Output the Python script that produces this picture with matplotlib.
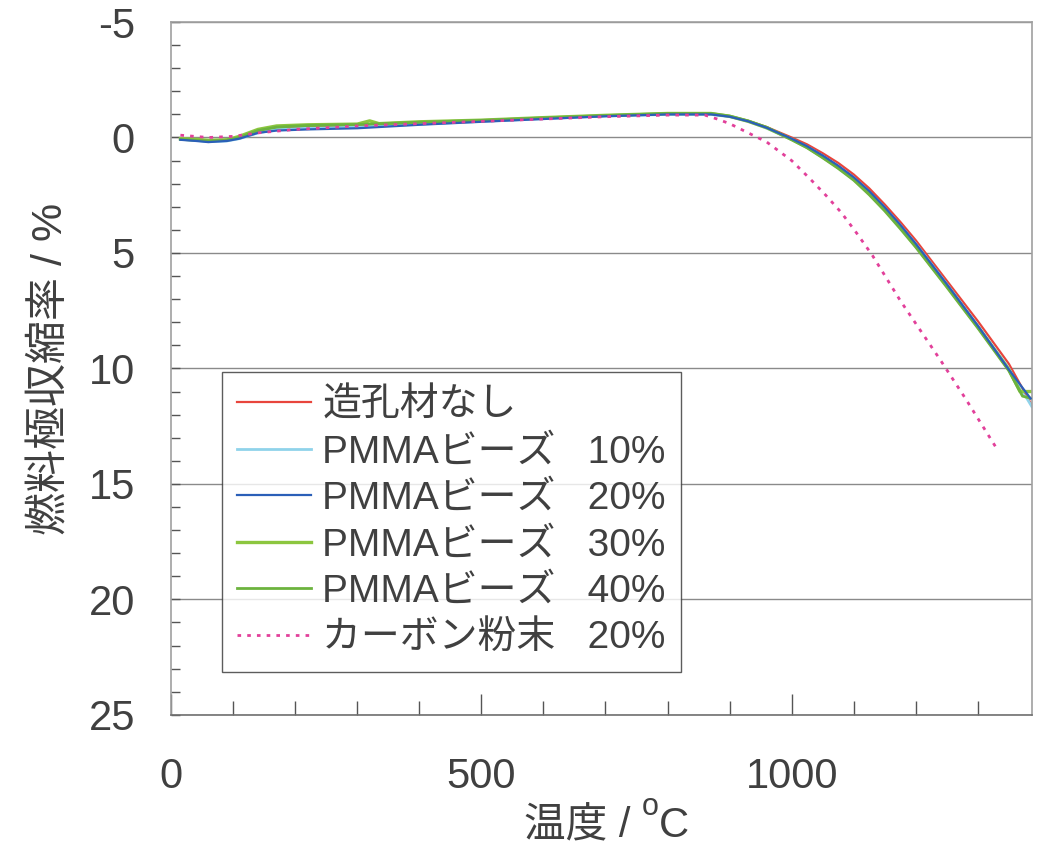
#!/usr/bin/python3
# -*- coding: utf-8 -*-
#
# 燃料極の収縮率 (造孔材の種類・量による違い)
#
import matplotlib
matplotlib.use('Agg')
import matplotlib.pyplot as plt
from matplotlib.ticker import MultipleLocator

plt.rcParams['font.family'] = ['Liberation Sans', 'Noto Sans CJK JP', 'DejaVu Sans']
plt.rcParams['axes.unicode_minus'] = False

#
# temperatura (°C) y contracción (%)
#
t_nashi = [15, 40, 60, 90, 110, 140, 170, 220, 300, 400, 500, 600, 700, 800, 870, 900,
           930, 960, 1000, 1025, 1050, 1075, 1100, 1125, 1150, 1175, 1200, 1250, 1300, 1350, 1385]
y_nashi = [0.05, 0.1, 0.15, 0.1, 0.0, -0.3, -0.42, -0.48, -0.52, -0.62, -0.72, -0.84, -0.94,
           -1.02, -1.02, -0.92, -0.72, -0.45, 0.0, 0.3, 0.68, 1.1, 1.6, 2.2, 2.9, 3.65, 4.45,
           6.2, 7.95, 9.8, 11.5]

t_pmma10 = [15, 40, 60, 90, 110, 140, 170, 220, 300, 400, 500, 600, 700, 800, 870, 900,
            930, 960, 1000, 1025, 1050, 1075, 1100, 1125, 1150, 1175, 1200, 1250, 1300, 1350,
            1372, 1378, 1387]
y_pmma10 = [0.08, 0.12, 0.18, 0.15, 0.05, -0.2, -0.35, -0.4, -0.45, -0.58, -0.7, -0.82, -0.93,
            -1.0, -1.0, -0.9, -0.7, -0.4, 0.08, 0.4, 0.8, 1.25, 1.75, 2.35, 3.05, 3.8, 4.6,
            6.35, 8.15, 10.0, 11.1, 11.25, 11.65]

t_pmma20 = [15, 40, 60, 90, 110, 140, 170, 220, 300, 400, 500, 600, 700, 800, 870, 900,
            930, 960, 1000, 1025, 1050, 1075, 1100, 1125, 1150, 1175, 1200, 1250, 1300, 1350, 1385]
y_pmma20 = [0.1, 0.15, 0.2, 0.15, 0.05, -0.2, -0.3, -0.35, -0.4, -0.55, -0.68, -0.8, -0.92,
            -1.0, -1.0, -0.9, -0.7, -0.42, 0.05, 0.38, 0.78, 1.22, 1.72, 2.32, 3.02, 3.78, 4.6,
            6.35, 8.15, 10.05, 11.3]

t_pmma30 = [15, 40, 60, 90, 110, 140, 170, 220, 300, 320, 335, 400, 500, 600, 700, 800, 870,
            900, 930, 960, 1000, 1025, 1050, 1075, 1100, 1125, 1150, 1175, 1200, 1250, 1300,
            1350, 1368, 1387]
y_pmma30 = [0.05, 0.08, 0.12, 0.1, -0.05, -0.35, -0.5, -0.55, -0.58, -0.72, -0.6, -0.68, -0.75,
            -0.86, -0.96, -1.04, -1.04, -0.92, -0.7, -0.42, 0.08, 0.42, 0.85, 1.3, 1.8, 2.42,
            3.12, 3.88, 4.7, 6.42, 8.2, 10.05, 11.0, 11.0]

t_pmma40 = [15, 40, 60, 90, 110, 140, 170, 220, 300, 400, 500, 600, 700, 800, 870, 900,
            930, 960, 1000, 1025, 1050, 1075, 1100, 1125, 1150, 1175, 1200, 1250, 1300, 1350,
            1372, 1387]
y_pmma40 = [0.08, 0.12, 0.15, 0.12, 0.0, -0.3, -0.45, -0.52, -0.56, -0.66, -0.74, -0.85, -0.95,
            -1.04, -1.04, -0.93, -0.72, -0.44, 0.1, 0.45, 0.88, 1.34, 1.85, 2.48, 3.18, 3.95,
            4.75, 6.48, 8.25, 10.1, 11.2, 11.3]

t_carbon = [15, 60, 100, 140, 200, 300, 400, 500, 600, 700, 800, 860, 880, 900, 930, 960,
            1000, 1030, 1055, 1080, 1105, 1130, 1175, 1240, 1280, 1330]
y_carbon = [-0.1, 0.0, -0.05, -0.2, -0.35, -0.5, -0.6, -0.7, -0.8, -0.9, -0.97, -0.97, -0.8,
            -0.6, -0.2, 0.2, 1.0, 1.8, 2.5, 3.25, 4.15, 5.1, 7.06, 9.65, 11.3, 13.45]

etiquetas = ['造孔材なし', 'PMMAビーズ   10%', 'PMMAビーズ   20%', 'PMMAビーズ   30%',
             'PMMAビーズ   40%', 'カーボン粉末   20%']

fig = plt.figure(figsize=(10.37, 8.47), dpi=100)
ax = fig.add_axes([0.165, 0.156, 0.830, 0.818])

ax.plot(t_nashi, y_nashi, color='#e8453c', lw=1.6, label=etiquetas[0])
ax.plot(t_pmma10, y_pmma10, color='#8fd3ea', lw=2.0, label=etiquetas[1])
ax.plot(t_pmma20, y_pmma20, color='#2b5fb8', lw=1.6, label=etiquetas[2], zorder=2.6)
ax.plot(t_pmma30, y_pmma30, color='#8cc63f', lw=2.4, label=etiquetas[3])
ax.plot(t_pmma40, y_pmma40, color='#6cb33e', lw=2.0, label=etiquetas[4])
ax.plot(t_carbon, y_carbon, color='#e2409a', lw=2.0, ls=(0, (1.3, 2.2)), label=etiquetas[5],
        zorder=2.7)

ax.set_xlim(0, 1387)
ax.set_ylim(25, -5)

ax.xaxis.set_major_locator(MultipleLocator(500))
ax.xaxis.set_minor_locator(MultipleLocator(100))
ax.yaxis.set_major_locator(MultipleLocator(5))
ax.yaxis.set_minor_locator(MultipleLocator(1))

ax.tick_params(axis='x', which='both', direction='in', colors='#555555', labelcolor='#404040',
               labelsize=30, pad=30)
ax.tick_params(axis='x', which='major', length=15, width=1)
ax.tick_params(axis='x', which='minor', length=10, width=1)
ax.tick_params(axis='y', which='both', direction='in', length=6.5, width=1, colors='#555555',
               labelcolor='#404040', labelsize=30, pad=26)

ax.grid(axis='y', which='major', color='#8a8a8a', lw=1)
for s in ax.spines.values():
    s.set_color('#a0a0a0')
    s.set_linewidth(1.2)
ax.spines['bottom'].set_color('#707070')

ax.set_ylabel('燃料極収縮率 / %', fontsize=31, color='#404040', labelpad=12)

# etiqueta del eje x: "温度 / oC" con la "o" como superíndice
W, H = fig.get_size_inches() * fig.dpi
r = fig.canvas.get_renderer()
base = 10 / H
t1 = fig.text(524 / W, base, '温度 / ', fontsize=30, color='#404040', va='baseline')
bb1 = t1.get_window_extent(r)
t2 = fig.text(bb1.x1 / W, base + 22 / H, 'o', fontsize=22, color='#404040', va='baseline')
bb2 = t2.get_window_extent(r)
fig.text(bb2.x1 / W, base, 'C', fontsize=30, color='#404040', va='baseline')

leg = ax.legend(loc='lower left', bbox_to_anchor=(0.059, 0.062), borderaxespad=0,
                fontsize=28, frameon=True, fancybox=False, handlelength=1.9,
                handletextpad=0.28, labelspacing=0.27, borderpad=0.4)
leg.get_frame().set_edgecolor('#333333')
leg.get_frame().set_linewidth(1.0)
for txt in leg.get_texts():
    txt.set_color('#404040')

plt.savefig('out.png', dpi=100)
